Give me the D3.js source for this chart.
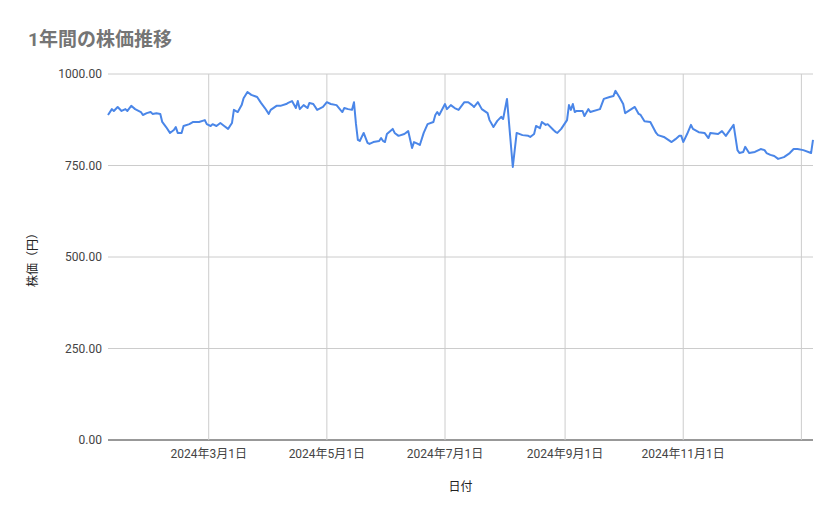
<!DOCTYPE html>
<html><head><meta charset="utf-8">
<script src="https://cdn.jsdelivr.net/npm/d3@7"></script>
<style>body{margin:0;background:#fff;font-family:Roboto,"Noto Sans CJK JP",sans-serif}</style>
</head><body><div id="chart"></div>
<script>
const dates = ["2024-01-09","2024-01-11","2024-01-12","2024-01-14","2024-01-16","2024-01-18","2024-01-19","2024-01-21","2024-01-23","2024-01-26","2024-01-27","2024-01-29","2024-01-31","2024-02-01","2024-02-03","2024-02-05","2024-02-06","2024-02-08","2024-02-10","2024-02-12","2024-02-13","2024-02-14","2024-02-16","2024-02-17","2024-02-20","2024-02-22","2024-02-25","2024-02-28","2024-02-29","2024-03-02","2024-03-03","2024-03-05","2024-03-07","2024-03-09","2024-03-11","2024-03-13","2024-03-14","2024-03-16","2024-03-18","2024-03-19","2024-03-21","2024-03-23","2024-03-26","2024-03-28","2024-03-30","2024-04-01","2024-04-02","2024-04-05","2024-04-07","2024-04-10","2024-04-11","2024-04-13","2024-04-15","2024-04-16","2024-04-17","2024-04-19","2024-04-21","2024-04-22","2024-04-24","2024-04-26","2024-04-29","2024-05-01","2024-05-03","2024-05-06","2024-05-08","2024-05-09","2024-05-10","2024-05-12","2024-05-14","2024-05-15","2024-05-16","2024-05-17","2024-05-18","2024-05-20","2024-05-22","2024-05-23","2024-05-25","2024-05-28","2024-05-29","2024-05-30","2024-05-31","2024-06-01","2024-06-04","2024-06-05","2024-06-07","2024-06-10","2024-06-12","2024-06-14","2024-06-15","2024-06-17","2024-06-18","2024-06-20","2024-06-22","2024-06-25","2024-06-26","2024-06-27","2024-06-28","2024-07-01","2024-07-02","2024-07-04","2024-07-06","2024-07-08","2024-07-11","2024-07-13","2024-07-15","2024-07-16","2024-07-18","2024-07-20","2024-07-23","2024-07-24","2024-07-26","2024-07-28","2024-07-30","2024-07-31","2024-08-02","2024-08-05","2024-08-07","2024-08-10","2024-08-13","2024-08-14","2024-08-16","2024-08-17","2024-08-19","2024-08-20","2024-08-22","2024-08-23","2024-08-26","2024-08-27","2024-08-28","2024-08-30","2024-09-02","2024-09-03","2024-09-04","2024-09-05","2024-09-06","2024-09-07","2024-09-10","2024-09-11","2024-09-13","2024-09-14","2024-09-19","2024-09-21","2024-09-24","2024-09-26","2024-09-27","2024-09-29","2024-10-01","2024-10-02","2024-10-07","2024-10-09","2024-10-10","2024-10-12","2024-10-15","2024-10-18","2024-10-19","2024-10-22","2024-10-26","2024-10-28","2024-10-30","2024-10-31","2024-11-01","2024-11-03","2024-11-05","2024-11-06","2024-11-09","2024-11-12","2024-11-14","2024-11-15","2024-11-19","2024-11-21","2024-11-23","2024-11-27","2024-11-29","2024-11-30","2024-12-02","2024-12-03","2024-12-05","2024-12-08","2024-12-11","2024-12-13","2024-12-14","2024-12-16","2024-12-18","2024-12-20","2024-12-23","2024-12-26","2024-12-28","2024-12-30","2025-01-02","2025-01-06","2025-01-07"];
const prices = [888,904,899,910,899,904,899,913,904,896,888,893,896,891,893,891,869,855,839,847,855,839,839,858,863,869,869,874,863,858,863,858,866,858,850,866,902,896,915,934,951,943,937,921,907,891,902,913,913,918,921,926,907,926,904,915,907,921,918,902,910,923,918,915,902,896,907,904,902,923,865,820,817,839,812,809,814,817,825,817,814,836,850,839,831,836,844,798,814,809,806,839,863,869,888,896,888,918,904,915,907,902,923,923,915,910,923,904,893,874,855,872,883,877,932,746,839,833,831,828,836,858,852,869,861,863,847,842,839,850,874,915,902,918,896,899,899,885,904,896,904,932,937,940,954,937,918,893,910,891,888,871,869,839,833,828,814,822,831,831,814,836,861,850,841,839,825,839,836,844,831,861,792,784,787,801,784,787,795,792,784,779,776,768,773,784,795,795,792,784,820];
const yTicks = [0, 250, 500, 750, 1000];
const xStart = "2024-01-09", xEnd = "2025-01-07";
const title = "1年間の株価推移", yTitle = "株価（円）", xTitle = "日付";

const W = 839, H = 519, L = 108, R = 813, T = 74, B = 440;
const parse = d3.timeParse("%Y-%m-%d");
const data = dates.map((d, i) => ({date: parse(d), v: prices[i]}));
const svg = d3.select("#chart").append("svg").attr("width", W).attr("height", H);
const x = d3.scaleTime().domain([parse(xStart), parse(xEnd)]).range([L, R]);
const y = d3.scaleLinear().domain([0, 1000]).range([B, T]);

const months = d3.timeMonth.every(2).range(parse("2024-03-01"), parse(xEnd));
svg.append("g").selectAll("line").data(yTicks).join("line")
  .attr("x1", L).attr("x2", R).attr("y1", d => y(d)).attr("y2", d => y(d))
  .attr("stroke", d => d === 0 ? "#333" : "#ccc").attr("stroke-width", 1);
svg.append("g").selectAll("line").data(months).join("line")
  .attr("x1", d => x(d)).attr("x2", d => x(d)).attr("y1", T).attr("y2", B)
  .attr("stroke", "#ccc");
svg.append("g").selectAll("text").data(yTicks).join("text")
  .attr("x", L - 6).attr("y", d => y(d) + 4).attr("text-anchor", "end")
  .attr("font-size", 12).attr("fill", "#444").text(d => d.toFixed(2));
svg.append("g").selectAll("text").data(months.filter(d => d.getFullYear() === 2024)).join("text")
  .attr("x", d => x(d)).attr("y", B + 18).attr("text-anchor", "middle")
  .attr("font-size", 12).attr("fill", "#444")
  .text(d => `${d.getFullYear()}年${d.getMonth() + 1}月${d.getDate()}日`);

svg.append("path").datum(data)
  .attr("d", d3.line().x(d => x(d.date)).y(d => y(d.v)))
  .attr("fill", "none").attr("stroke", "#4a86e8").attr("stroke-width", 2)
  .attr("stroke-linejoin", "round");

svg.append("text").attr("x", 28).attr("y", 46).attr("font-size", 19).attr("font-weight", "bold")
  .attr("fill", "#757575").text(title);
svg.append("text").attr("transform", `translate(37,${(T + B) / 2}) rotate(-90)`)
  .attr("text-anchor", "middle").attr("font-size", 12).attr("fill", "#222").text(yTitle);
svg.append("text").attr("x", (L + R) / 2).attr("y", 491).attr("text-anchor", "middle")
  .attr("font-size", 12).attr("fill", "#222").text(xTitle);
</script></body></html>
